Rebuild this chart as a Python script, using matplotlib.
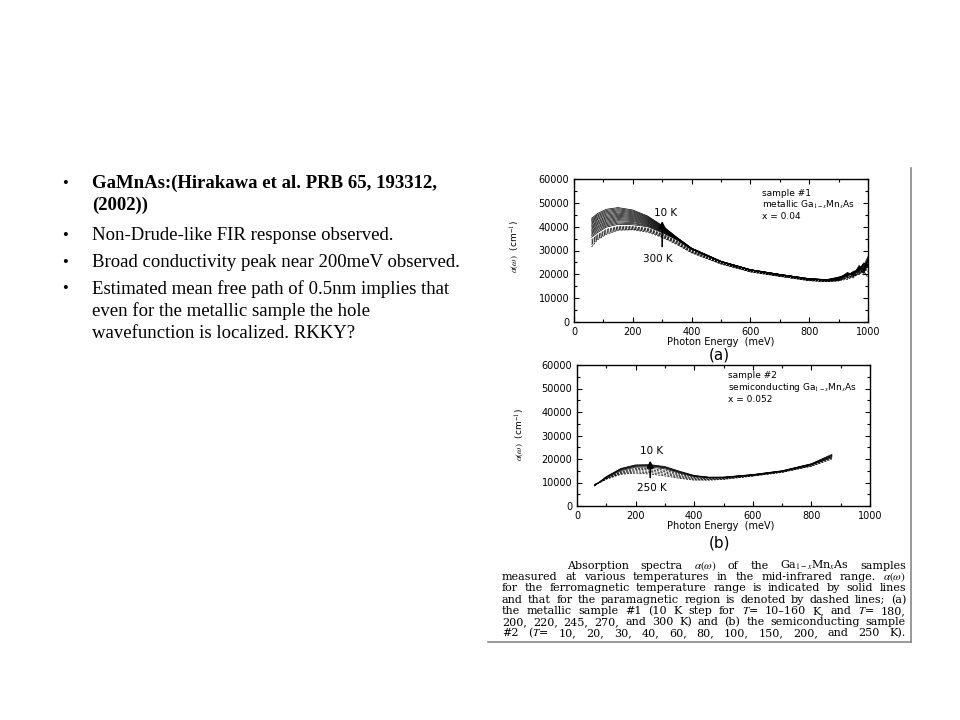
import matplotlib
matplotlib.use("Agg")
import matplotlib.pyplot as plt
from matplotlib.lines import Line2D
from matplotlib.ticker import MultipleLocator

# ---- slide text ----
bullets = [
    ("GaMnAs:(Hirakawa et al. PRB 65, 193312,\n(2002))", "bold"),
    ("Non-Drude-like FIR response observed.", "normal"),
    ("Broad conductivity peak near 200meV observed.", "normal"),
    ("Estimated mean free path of 0.5nm implies that\neven for the metallic sample the hole\nwavefunction is localized. RKKY?", "normal"),
]
bullet_y = [184, 236, 263, 289]

# ---- panel (a): metallic sample #1 ----
energy_a = [60, 80, 110, 150, 200, 250, 300, 350, 400, 500, 600, 700, 800, 860, 900, 930, 950, 970, 985, 1000]
temps_a_solid = [10, 20, 30, 40, 50, 60, 70, 80, 90, 100, 110, 120, 130, 140, 150, 160]
temps_a_dashed = [180, 200, 220, 245, 270, 300]
alpha_a = {
    10: [43500, 45500, 47300, 48000, 47000, 44500, 40500, 35500, 31000, 25500, 22000, 20000, 18200, 17800, 18600, 20400, 19600, 23800, 21200, 26500],
    20: [43000, 45000, 46800, 47550, 46600, 44200, 40300, 35450, 30970, 25480, 21980, 19980, 18180, 17780, 18300, 19800, 20500, 22600, 24200, 25200],
    30: [42500, 44500, 46300, 47100, 46200, 43900, 40100, 35400, 30930, 25460, 21960, 19960, 18160, 17760, 18900, 19400, 21300, 21800, 23600, 27500],
    40: [42000, 44000, 45800, 46650, 45800, 43600, 39900, 35330, 30900, 25440, 21940, 19940, 18140, 17740, 17900, 20800, 19200, 22900, 20400, 24300],
    50: [41500, 43500, 45300, 46200, 45400, 43300, 39700, 35260, 30870, 25420, 21920, 19920, 18120, 17720, 18400, 19900, 20800, 21700, 24800, 23600],
    60: [41000, 43000, 44800, 45700, 45000, 43000, 39500, 35200, 30830, 25400, 21900, 19900, 18100, 17700, 18700, 20100, 19900, 23200, 22100, 26800],
    70: [40400, 42400, 44300, 45250, 44600, 42700, 39300, 35130, 30800, 25380, 21880, 19880, 18080, 17680, 18100, 20600, 20200, 22300, 23900, 22800],
    80: [39900, 41900, 43800, 44800, 44200, 42400, 39100, 35060, 30770, 25360, 21860, 19860, 18060, 17660, 18500, 19300, 21000, 21900, 22700, 25800],
    90: [39400, 41400, 43300, 44350, 43800, 42100, 38900, 35000, 30730, 25340, 21840, 19840, 18040, 17640, 17800, 20300, 19500, 23400, 21600, 24600],
    100: [38900, 40900, 42800, 43900, 43400, 41800, 38700, 34930, 30700, 25320, 21820, 19820, 18020, 17620, 18300, 19700, 20600, 22100, 24500, 23200],
    110: [38300, 40300, 42300, 43400, 43000, 41500, 38500, 34860, 30670, 25300, 21800, 19800, 18000, 17600, 18600, 20000, 19800, 22700, 21900, 27000],
    120: [37800, 39800, 41800, 42950, 42600, 41200, 38300, 34800, 30630, 25280, 21780, 19780, 17980, 17580, 17700, 19500, 20900, 21500, 23300, 24000],
    130: [37300, 39300, 41300, 42500, 42200, 40900, 38100, 34730, 30600, 25260, 21760, 19760, 17960, 17560, 18200, 20500, 19300, 23000, 22400, 25400],
    140: [36800, 38700, 40800, 42000, 41700, 40600, 37900, 34660, 30570, 25240, 21740, 19740, 17940, 17540, 18400, 19200, 20300, 21400, 24100, 23000],
    150: [36200, 38100, 40300, 41500, 41300, 40300, 37700, 34600, 30530, 25220, 21720, 19720, 17920, 17520, 17600, 19900, 19700, 22500, 20900, 26200],
    160: [35600, 37500, 39800, 41000, 40800, 40000, 37500, 34500, 30500, 25200, 21700, 19700, 17900, 17500, 18000, 20200, 20100, 21200, 23100, 24400],
    180: [34500, 36500, 38800, 40000, 40000, 39300, 37000, 34000, 30200, 25000, 21500, 19500, 17700, 17300, 17500, 18900, 19300, 20800, 21800, 23500],
    200: [34000, 36100, 38400, 39700, 39700, 39000, 36700, 33700, 29950, 24850, 21400, 19420, 17620, 17220, 17900, 18500, 19800, 20300, 22600, 22000],
    220: [33500, 35700, 38000, 39400, 39400, 38700, 36400, 33400, 29700, 24700, 21300, 19340, 17540, 17140, 17300, 19100, 18800, 21300, 20600, 24800],
    245: [33000, 35300, 37600, 39100, 39100, 38400, 36100, 33100, 29450, 24550, 21200, 19260, 17460, 17060, 17700, 18300, 19600, 19900, 22300, 21200],
    270: [32500, 34900, 37200, 38800, 38900, 38100, 35800, 32800, 29200, 24400, 21100, 19180, 17380, 16980, 17200, 18700, 18500, 20900, 19800, 23900],
    300: [31500, 34500, 36800, 38500, 38700, 37700, 35500, 32500, 29000, 24300, 21000, 19100, 17300, 16900, 17400, 17900, 19100, 20100, 21500, 18500],
}

# ---- panel (b): semiconducting sample #2 ----
energy_b = [60, 80, 100, 150, 200, 250, 300, 350, 400, 450, 500, 600, 700, 800, 870]
temps_b_solid = [10, 20, 30, 40, 60]
temps_b_dashed = [80, 100, 150, 200, 250]
alpha_b = {
    10: [8500, 10500, 12500, 16000, 17500, 17600, 16800, 14800, 13000, 12300, 12300, 13400, 15000, 18000, 22000],
    20: [8600, 10500, 12400, 15800, 17300, 17400, 16600, 14600, 12900, 12200, 12250, 13350, 14950, 17900, 21700],
    30: [8700, 10500, 12300, 15600, 17100, 17200, 16400, 14400, 12800, 12150, 12200, 13300, 14900, 17800, 21400],
    40: [8800, 10500, 12200, 15400, 16900, 17000, 16200, 14200, 12700, 12100, 12150, 13250, 14850, 17700, 21100],
    60: [8900, 10400, 12000, 15100, 16500, 16600, 15800, 13900, 12500, 12000, 12100, 13200, 14800, 17600, 20800],
    80: [9000, 10300, 11800, 14700, 16000, 16000, 15200, 13500, 12200, 11800, 11900, 13100, 14700, 17500, 21500],
    100: [9000, 10200, 11700, 14400, 15500, 15400, 14600, 13000, 11900, 11600, 11800, 13000, 14600, 17300, 21000],
    150: [9100, 10200, 11600, 14100, 15000, 14800, 14000, 12600, 11600, 11400, 11600, 12900, 14500, 17200, 20600],
    200: [9100, 10100, 11500, 13800, 14500, 14200, 13400, 12200, 11300, 11200, 11500, 12800, 14400, 17000, 20300],
    250: [9200, 10100, 11400, 13500, 14000, 13600, 12800, 11800, 11000, 11000, 11300, 12700, 14300, 16900, 20000],
}

caption = [
    r"Absorption spectra $\alpha(\omega)$ of the Ga$_{1-x}$Mn$_x$As samples",
    r"measured at various temperatures in the mid-infrared range. $\alpha(\omega)$",
    "for the ferromagnetic temperature range is indicated by solid lines",
    "and that for the paramagnetic region is denoted by dashed lines; (a)",
    r"the metallic sample #1 (10 K step for $T$= 10–160 K, and $T$= 180,",
    "200, 220, 245, 270, and 300 K) and (b) the semiconducting sample",
    r"#2 ($T$= 10, 20, 30, 40, 60, 80, 100, 150, 200, and 250 K).",
]

W, H = 960, 720
fig = plt.figure(figsize=(9.6, 7.2), dpi=100)
fig.patch.set_facecolor("white")
plt.rcParams["mathtext.fontset"] = "stix"


def fx(px):
    return px / W


def fy(py):
    return 1 - py / H


# left bullet list
serif = "Liberation Serif"
for (txt, wt), yy in zip(bullets, bullet_y):
    fig.text(fx(62), fy(yy), "•", family=serif, fontsize=12, va="center")
    fig.text(fx(92), fy(yy) + 0.013, txt, family=serif, fontsize=13.5, weight=wt,
             va="top", linespacing=1.35)

# scanned figure border
fig.add_artist(Line2D([fx(911), fx(911)], [fy(168), fy(642)], color="#888888", lw=1.2))
fig.add_artist(Line2D([fx(488), fx(911)], [fy(642), fy(642)], color="#888888", lw=1.2))

sans = "DejaVu Sans"


def style_axes(ax):
    ax.set_xlim(0, 1000)
    ax.set_ylim(0, 60000)
    ax.xaxis.set_major_locator(MultipleLocator(200))
    ax.xaxis.set_minor_locator(MultipleLocator(100))
    ax.yaxis.set_major_locator(MultipleLocator(10000))
    ax.yaxis.set_minor_locator(MultipleLocator(5000))
    ax.tick_params(which="both", direction="in", top=True, right=True, labelsize=7, width=0.8)
    ax.tick_params(which="major", length=3.5)
    ax.tick_params(which="minor", length=2)
    for lab in ax.get_xticklabels() + ax.get_yticklabels():
        lab.set_family(sans)
    for s in ax.spines.values():
        s.set_linewidth(1.0)


def draw_curves(ax, energy, data, solid, dashed):
    for t in solid:
        ax.plot(energy, data[t], color="black", lw=0.5)
    for t in dashed:
        ax.plot(energy, data[t], color="black", lw=0.5, dashes=(3, 1.5))


# panel (a)
ax1 = fig.add_axes([fx(574), fy(322), (868 - 574) / W, (322 - 179) / H])
draw_curves(ax1, energy_a, alpha_a, temps_a_solid, temps_a_dashed)
style_axes(ax1)
ax1.annotate("", xy=(300, 43500), xytext=(300, 30500),
             arrowprops=dict(arrowstyle="-|>", color="black", lw=1.2, mutation_scale=10))
ax1.text(310, 45700, "10 K", family=sans, fontsize=7.5, ha="center", va="center")
ax1.text(286, 26400, "300 K", family=sans, fontsize=7.5, ha="center", va="center")
ax1.text(640, 56000, "sample #1\nmetallic Ga$_{1-x}$Mn$_x$As\nx = 0.04", family=sans,
         fontsize=6.5, va="top", linespacing=1.15)
fig.text(fx(515), fy(247), r"$\alpha(\omega)$  (cm$^{-1}$)", family=sans, fontsize=6.5,
         rotation=90, ha="center", va="center")
fig.text(fx(721), fy(342), "Photon Energy  (meV)", family=sans, fontsize=7, ha="center", va="center")
fig.text(fx(719), fy(355), "(a)", family=sans, fontsize=11, ha="center", va="center")

# panel (b)
ax2 = fig.add_axes([fx(577), fy(506), (870 - 577) / W, (506 - 365) / H])
draw_curves(ax2, energy_b, alpha_b, temps_b_solid, temps_b_dashed)
style_axes(ax2)
ax2.annotate("", xy=(250, 20500), xytext=(250, 11000),
             arrowprops=dict(arrowstyle="-|>", color="black", lw=1.2, mutation_scale=10))
ax2.text(256, 23400, "10 K", family=sans, fontsize=7.5, ha="center", va="center")
ax2.text(256, 7700, "250 K", family=sans, fontsize=7.5, ha="center", va="center")
ax2.text(515, 57500, "sample #2\nsemiconducting Ga$_{1-x}$Mn$_x$As\nx = 0.052", family=sans,
         fontsize=6.5, va="top", linespacing=1.15)
fig.text(fx(520), fy(435), r"$\alpha(\omega)$  (cm$^{-1}$)", family=sans, fontsize=6.5,
         rotation=90, ha="center", va="center")
fig.text(fx(721), fy(526), "Photon Energy  (meV)", family=sans, fontsize=7, ha="center", va="center")
fig.text(fx(719), fy(543), "(b)", family=sans, fontsize=11, ha="center", va="center")

# justified caption, one word at a time
renderer = fig.canvas.get_renderer()
cap_serif = "DejaVu Serif"
cap_base = [569, 580, 591, 603, 614, 625, 636]
for i, (line, yy) in enumerate(zip(caption, cap_base)):
    x0 = 567 if i == 0 else 502
    x1 = 906
    words = line.split(" ")
    texts = [fig.text(0, fy(yy), w, family=cap_serif, fontsize=8, va="baseline") for w in words]
    widths = [t.get_window_extent(renderer).width for t in texts]
    gap = (x1 - x0 - sum(widths)) / (len(words) - 1)
    x = x0
    for t, w in zip(texts, widths):
        t.set_x(fx(x))
        x += w + gap

fig.savefig("out.png", dpi=100, facecolor="white")
